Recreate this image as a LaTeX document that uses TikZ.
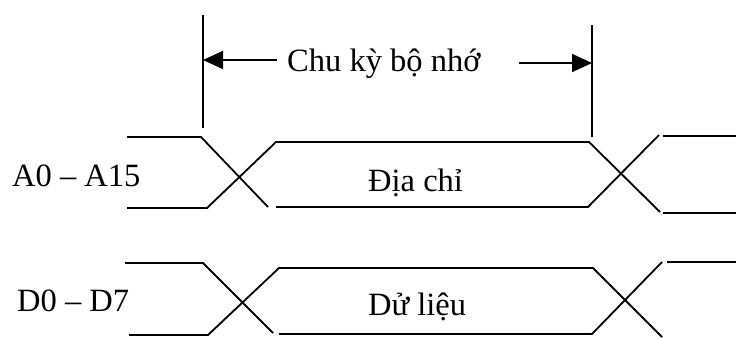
\documentclass[tikz,border=0pt]{standalone}
\usepackage{fontspec}
\setmainfont{Liberation Serif}
\usetikzlibrary{arrows.meta}
\begin{document}
\begin{tikzpicture}[x=1pt,y=-1pt,
  wave/.style={line width=1.8pt, line join=miter},
  lbl/.style={font=\fontsize{32.5}{36}\selectfont, inner sep=0pt},
  dimarrow/.style={line width=1.8pt, -{Triangle[length=20pt,width=18pt]}}]
\useasboundingbox (0,0) rectangle (736,338);
% cycle markers
\coordinate (vl1) at (203,15);
\coordinate (vl2) at (203,128);
\coordinate (vr1) at (592,25);
\coordinate (vr2) at (592,137);
\draw[wave] (vl1) -- (vl2);
\draw[wave] (vr1) -- (vr2);
\node[lbl, anchor=base west] (cycle) at (287,71) {Chu kỳ bộ nhớ};
\coordinate (al) at (277,60);
\coordinate (alt) at (203,60);
\coordinate (ar) at (519,63);
\coordinate (art) at (592,63);
\draw[dimarrow] (al) -- (alt);
\draw[dimarrow] (ar) -- (art);
% address bus
\draw[wave] (127,137) -- (201,137) -- (268,207);
\draw[wave] (127,208) -- (207,208) -- (276,142) -- (589,142) -- (660,212);
\draw[wave] (276,207) -- (588,207) -- (659,135);
\draw[wave] (663,136) -- (736,136);
\draw[wave] (663,213) -- (736,213);
\node[lbl, anchor=base west] (alabel) at (12,186) {A0 – A15};
\node[lbl, anchor=base west] (adata) at (368,191) {Địa chỉ};
% data bus
\draw[wave] (125,263) -- (203,263) -- (273,333);
\draw[wave] (129,335) -- (208,335) -- (279,268) -- (593,268) -- (662,337);
\draw[wave] (279,334) -- (592,334) -- (662,262);
\draw[wave] (667,262) -- (736,262);
\node[lbl, anchor=base west] (dlabel) at (17,311) {D0 – D7};
\node[lbl, anchor=base west] (ddata) at (368,315) {Dử liệu};
\end{tikzpicture}
\end{document}
